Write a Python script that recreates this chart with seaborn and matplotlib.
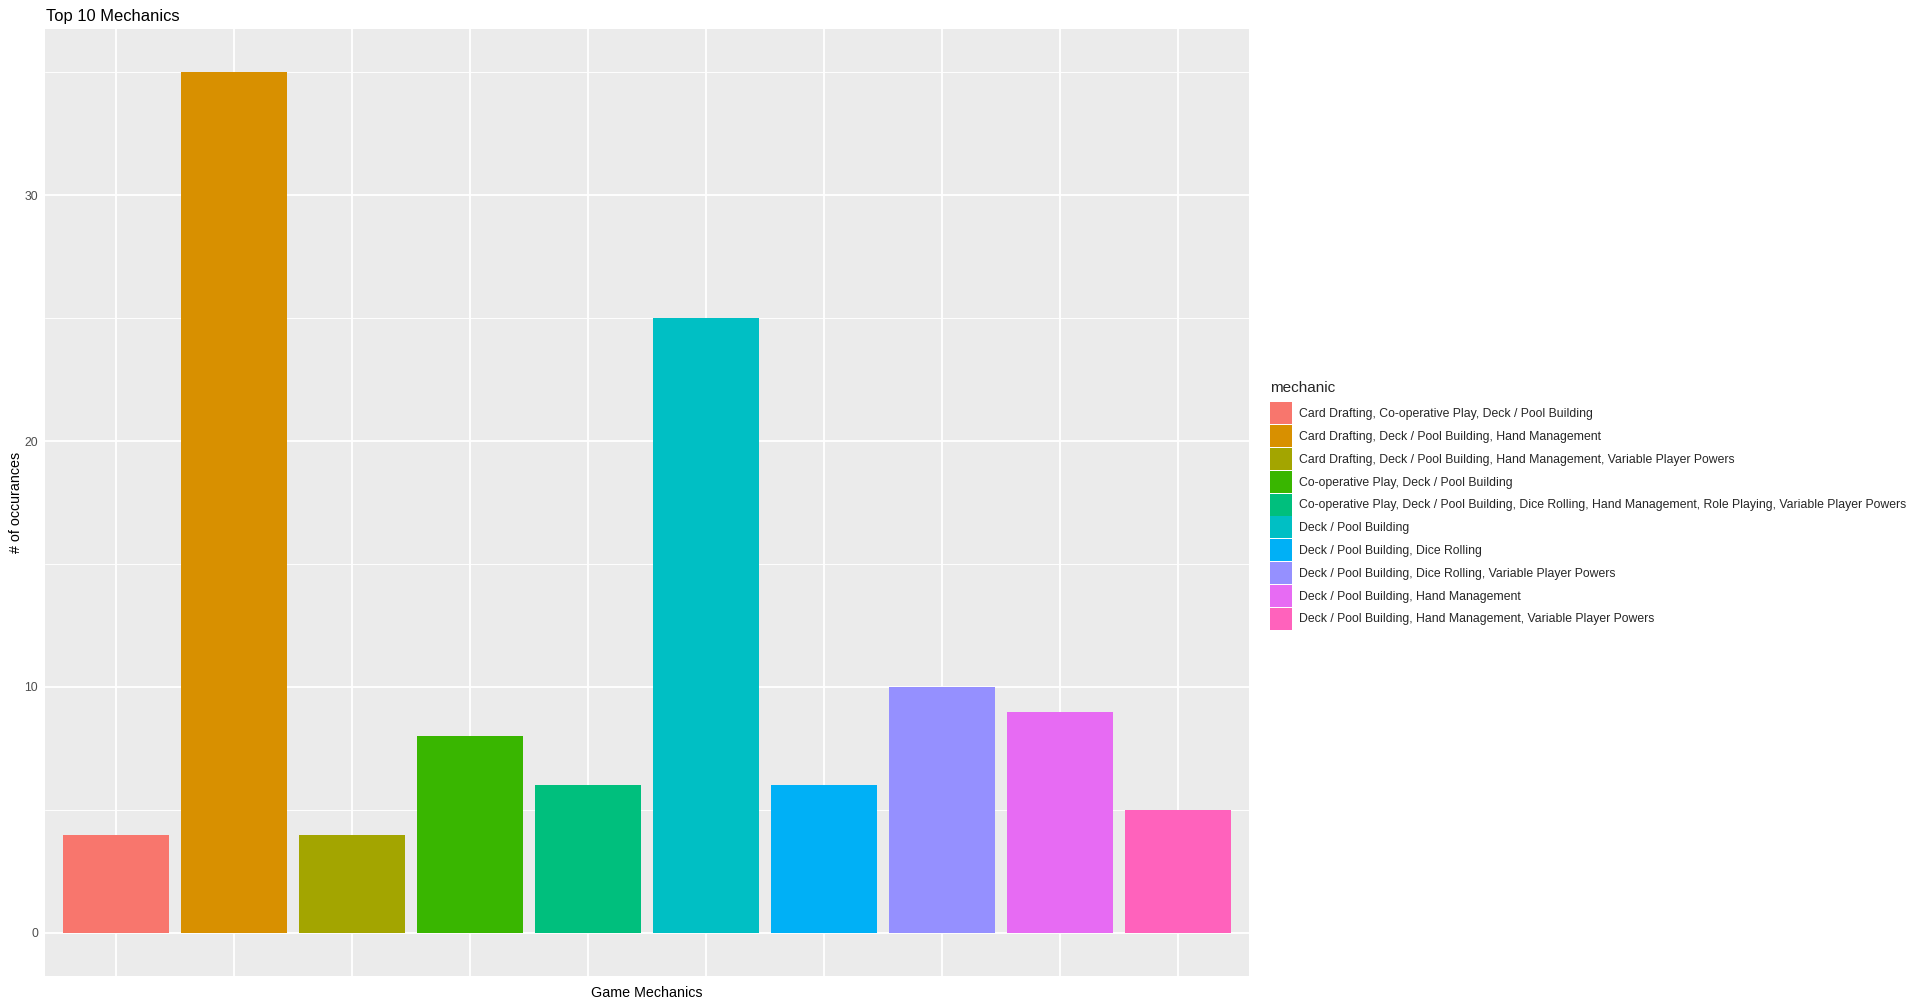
import matplotlib
matplotlib.use("Agg")
import matplotlib.pyplot as plt
import seaborn as sns
import pandas as pd
from matplotlib.ticker import MultipleLocator

mechanics = [
    "Card Drafting, Co-operative Play, Deck / Pool Building",
    "Card Drafting, Deck / Pool Building, Hand Management",
    "Card Drafting, Deck / Pool Building, Hand Management, Variable Player Powers",
    "Co-operative Play, Deck / Pool Building",
    "Co-operative Play, Deck / Pool Building, Dice Rolling, Hand Management, Role Playing, Variable Player Powers",
    "Deck / Pool Building",
    "Deck / Pool Building, Dice Rolling",
    "Deck / Pool Building, Dice Rolling, Variable Player Powers",
    "Deck / Pool Building, Hand Management",
    "Deck / Pool Building, Hand Management, Variable Player Powers",
]
counts = [4, 35, 4, 8, 6, 25, 6, 10, 9, 5]
colors = ["#F8766D", "#D89000", "#A3A500", "#39B600", "#00BF7D",
          "#00BFC4", "#00B0F6", "#9590FF", "#E76BF3", "#FF62BC"]

df = pd.DataFrame({"mechanic": mechanics, "n": counts})

sns.set_theme(style="white")
plt.rcParams["font.family"] = ["Liberation Sans", "DejaVu Sans"]

fig = plt.figure(figsize=(19.2, 10.07), dpi=100)
ax = fig.add_axes([45/1920, 1-976/1007, (1249-45)/1920, (976-29)/1007])
ax.set_facecolor("#EBEBEB")

sns.barplot(data=df, x="mechanic", y="n", hue="mechanic", order=mechanics,
            hue_order=mechanics, palette=colors, width=0.9, dodge=False,
            saturation=1, ax=ax, legend=True, zorder=3, linewidth=0,
            edgecolor="none")

for sp in ax.spines.values():
    sp.set_visible(False)

ax.set_xlim(-0.6, 9.6)
ax.set_ylim(-1.75, 36.75)
ax.yaxis.set_major_locator(MultipleLocator(10))
ax.yaxis.set_minor_locator(MultipleLocator(5))
ax.set_axisbelow(True)
ax.grid(which="major", color="white", linewidth=1.3, zorder=0)
ax.grid(which="minor", axis="y", color="white", linewidth=0.65, zorder=0)
ax.set_xticks(range(len(mechanics)))
ax.set_xticklabels([])
ax.tick_params(axis="x", length=0)
ax.tick_params(axis="y", which="major", length=0,
               labelsize=8.8, labelcolor="#4D4D4D", pad=5)
ax.tick_params(axis="y", which="minor", length=0)

ax.set_xlabel("Game Mechanics", fontsize=10.3, color="black", labelpad=4)
ax.set_ylabel("# of occurances", fontsize=10.3, color="black", labelpad=1)

fig.text(46/1920, 1-16.5/1007, "Top 10 Mechanics", fontsize=11.9, ha="left",
         va="center", color="black")

handles, labels = ax.get_legend_handles_labels()
ax.get_legend().remove()
leg = fig.legend(handles, labels, title="mechanic", loc="center left",
                 bbox_to_anchor=(1270/1920, 0.498), frameon=False,
                 fontsize=8.84, title_fontsize=11, handlelength=1.79,
                 handleheight=2.375, labelspacing=0.07, handletextpad=0.55,
                 borderaxespad=0, borderpad=0)
leg._legend_box.align = "left"
leg._legend_box.sep = 5

fig.savefig("out.png", dpi=100, facecolor="white")
